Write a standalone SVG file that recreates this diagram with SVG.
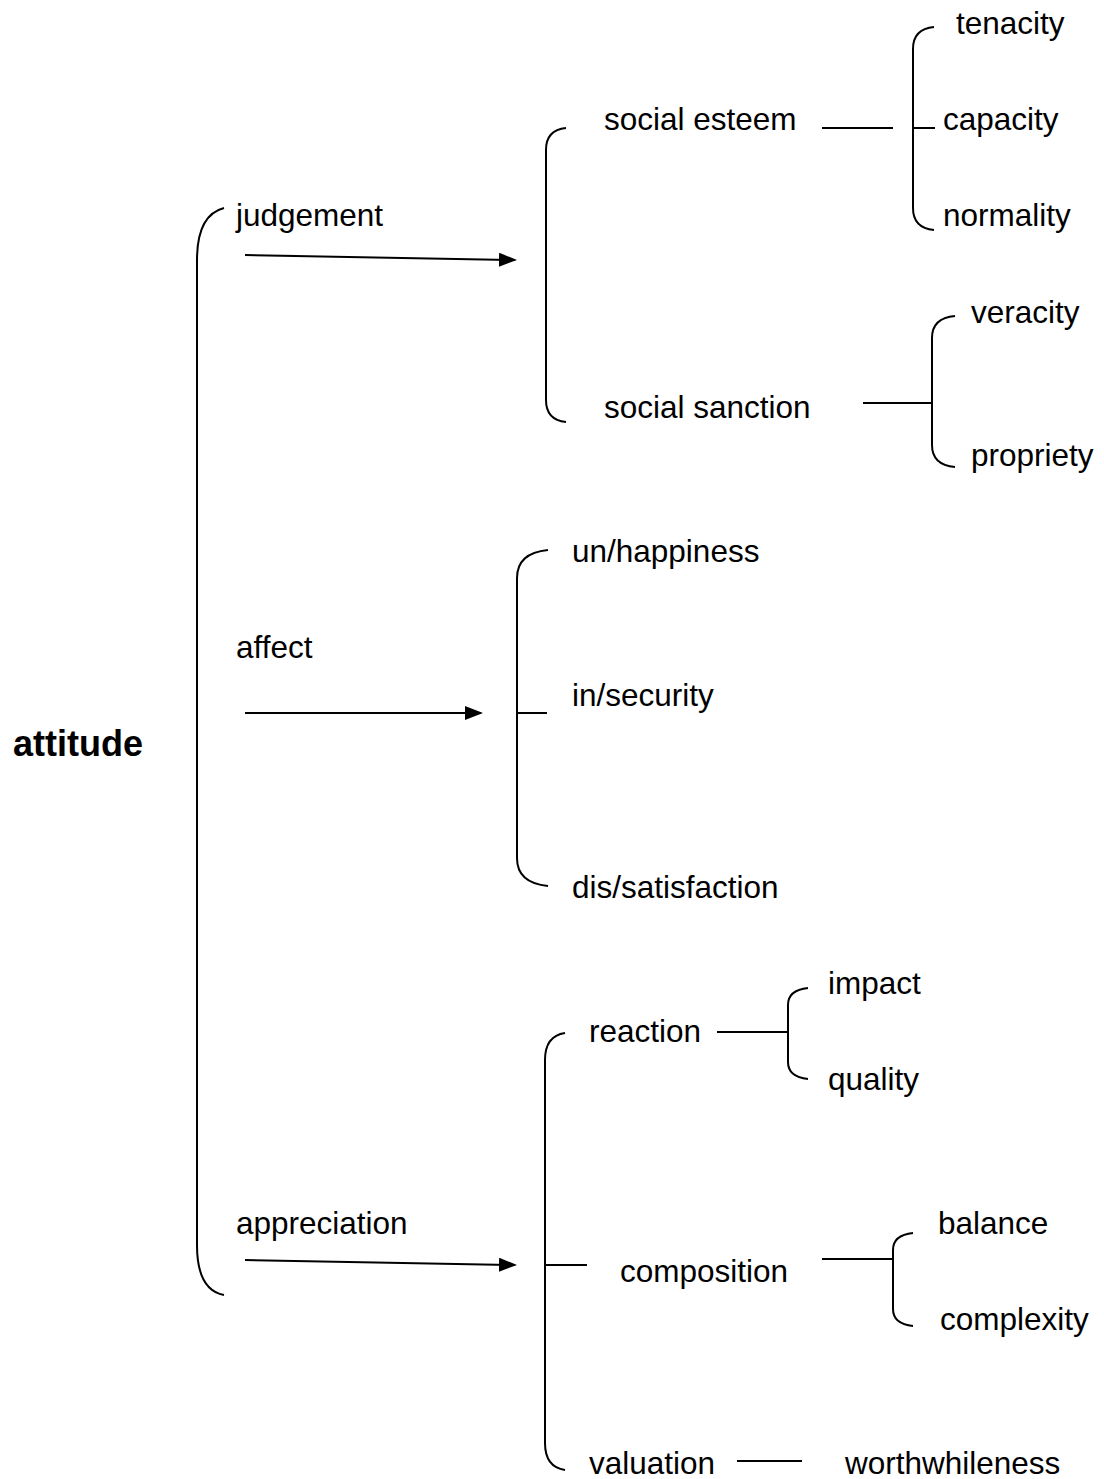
<svg xmlns="http://www.w3.org/2000/svg" width="1104" height="1479" viewBox="0 0 1104 1479">
<defs>
<style>
text{font-family:"Liberation Sans",Arial,sans-serif;font-size:31.5px;fill:#000}
.b{font-weight:bold;font-size:36px}
.l{fill:none;stroke:#000;stroke-width:2}
</style>
<marker id="ah" markerWidth="9" markerHeight="7" refX="8" refY="3.5" orient="auto" markerUnits="strokeWidth">
<path d="M0,0 L9,3.5 L0,7 Z" fill="#000"/>
</marker>
</defs>
<rect width="1104" height="1479" fill="#fff"/>
<g id="connectors">
<path class="l" d="M224,208 Q197,215 197,260 L197,1245 Q197,1290 224,1295"/>
<path class="l" d="M245,255 L515,260" marker-end="url(#ah)"/>
<path class="l" d="M245,713 L481,713" marker-end="url(#ah)"/>
<path class="l" d="M245,1260 L515,1265" marker-end="url(#ah)"/>
<path class="l" d="M566,128 Q546,130 546,150 L546,400 Q546,420 566,422"/>
<path class="l" d="M822,128 L893,128"/>
<path class="l" d="M934,27 Q913,29 913,49 L913,208 Q913,228 934,230"/>
<path class="l" d="M913,128 L935,128"/>
<path class="l" d="M863,403 L932,403"/>
<path class="l" d="M955,316 Q932,318 932,338 L932,445 Q932,465 955,467"/>
<path class="l" d="M548,550 Q517,553 517,578 L517,858 Q517,883 548,886"/>
<path class="l" d="M517,713 L547,713"/>
<path class="l" d="M717,1032 L788,1032"/>
<path class="l" d="M808,988 Q788,990 788,1005 L788,1062 Q788,1077 808,1079"/>
<path class="l" d="M565,1033 Q545,1036 545,1060 L545,1443 Q545,1467 565,1470"/>
<path class="l" d="M545,1265 L587,1265"/>
<path class="l" d="M822,1259 L893,1259"/>
<path class="l" d="M913,1233 Q893,1235 893,1250 L893,1309 Q893,1324 913,1326"/>
<path class="l" d="M737,1461 L802,1461"/>
</g>
<g id="n-attitude"><text class="b" x="13" y="756">attitude</text></g>
<g id="n-judgement"><text x="236" y="226">judgement</text></g>
<g id="n-affect"><text x="236" y="658">affect</text></g>
<g id="n-appreciation"><text x="236" y="1234">appreciation</text></g>
<g id="n-social-esteem"><text x="604" y="130">social esteem</text></g>
<g id="n-social-sanction"><text x="604" y="418">social sanction</text></g>
<g id="n-tenacity"><text x="956" y="34">tenacity</text></g>
<g id="n-capacity"><text x="943" y="130">capacity</text></g>
<g id="n-normality"><text x="943" y="226">normality</text></g>
<g id="n-veracity"><text x="971" y="323">veracity</text></g>
<g id="n-propriety"><text x="971" y="466">propriety</text></g>
<g id="n-unhappiness"><text x="572" y="562">un/happiness</text></g>
<g id="n-insecurity"><text x="572" y="706">in/security</text></g>
<g id="n-dissatisfaction"><text x="572" y="898">dis/satisfaction</text></g>
<g id="n-reaction"><text x="589" y="1042">reaction</text></g>
<g id="n-impact"><text x="828" y="994">impact</text></g>
<g id="n-quality"><text x="828" y="1090">quality</text></g>
<g id="n-composition"><text x="620" y="1282">composition</text></g>
<g id="n-balance"><text x="938" y="1234">balance</text></g>
<g id="n-complexity"><text x="940" y="1330">complexity</text></g>
<g id="n-valuation"><text x="589" y="1474">valuation</text></g>
<g id="n-worthwhileness"><text x="845" y="1474">worthwhileness</text></g>
</svg>
